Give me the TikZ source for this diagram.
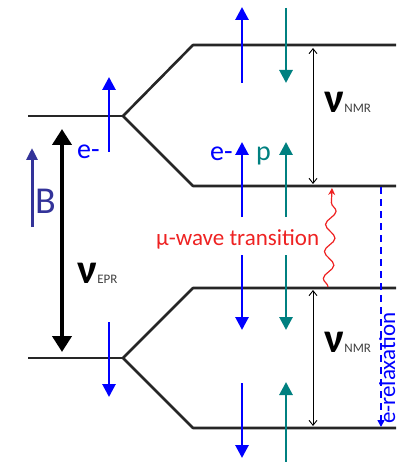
\documentclass[tikz,border=0pt]{standalone}
\usepackage{fontspec}
\setmainfont{Carlito}
\usetikzlibrary{arrows.meta,decorations.pathmorphing}
\definecolor{eblue}{HTML}{0000FF}
\definecolor{pteal}{HTML}{008080}
\definecolor{bnavy}{HTML}{333399}
\definecolor{wred}{HTML}{EE2222}
\definecolor{lvl}{HTML}{262626}
\definecolor{subgray}{HTML}{404040}
\begin{document}
\begin{tikzpicture}[x=1pt,y=-1pt,
  level/.style={draw=lvl,line width=2.6pt,line join=round},
  spinblue/.style={draw=eblue,line width=2.8pt,-{Triangle[width=13pt,length=13pt]}},
  spinteal/.style={draw=pteal,line width=2.8pt,-{Triangle[width=13pt,length=13pt]}},
  nmrarrow/.style={draw=black,line width=0.9pt,{Straight Barb[length=5pt,width=8pt]}-{Straight Barb[length=5pt,width=8pt]}},
  nulabel/.style={anchor=base west,inner sep=0pt,font=\fontsize{42}{42}\selectfont\bfseries},
  sublabel/.style={anchor=base west,inner sep=0pt,text=subgray,font=\fontsize{13}{13}\selectfont}]
\useasboundingbox (0,0) rectangle (396,462);
% levels
\coordinate (L1) at (28,116);
\coordinate (S1) at (123,116);
\coordinate (L2) at (28,358);
\coordinate (S2) at (123,358);
\coordinate (T1) at (193,45);   \coordinate (T1e) at (396,45);
\coordinate (T2) at (193,186);  \coordinate (T2e) at (396,186);
\coordinate (T3) at (193,288);  \coordinate (T3e) at (396,288);
\coordinate (T4) at (193,428);  \coordinate (T4e) at (396,428);
\draw[level] (L1) -- (S1);
\draw[level] (T1e) -- (T1) -- (S1) -- (T2) -- (T2e);
\draw[level] (L2) -- (S2);
\draw[level] (T3e) -- (T3) -- (S2) -- (T4) -- (T4e);
% left spins
\draw[spinblue] (109,152) -- (109,77);
\draw[spinblue] (109,322) -- (109,397);
% right spins
\draw[spinblue] (242,83) -- (242,7);
\draw[spinteal] (286,8) -- (286,83);
\draw[spinblue] (242,217) -- (242,142);
\draw[spinteal] (286,217) -- (286,142);
\draw[spinblue] (242,255) -- (242,330);
\draw[spinteal] (286,255) -- (286,330);
\draw[spinblue] (242,383) -- (242,458);
\draw[spinteal] (286,462) -- (286,382);
% EPR arrow
\draw[line width=4pt,{Triangle[width=19pt,length=16pt]}-{Triangle[width=19pt,length=16pt]}] (62,129) -- (62,352);
% B arrow
\draw[bnavy,line width=3pt,-{Triangle[width=11pt,length=12pt]}] (32,227) -- (32,148);
% NMR arrows
\draw[nmrarrow] (313,48) -- (313,184);
\draw[nmrarrow] (313,290) -- (313,426);
% microwave
\draw[wred,line width=1.2pt,-{Stealth[length=7pt,width=7pt]},decorate,
  decoration={snake,amplitude=5pt,segment length=27pt,post length=7pt}] (328,287) -- (332,188);
% relaxation
\draw[eblue,line width=1.5pt,dash pattern=on 7pt off 5pt,-{Triangle[width=7pt,length=7pt]}] (381,187) -- (381,427);
% labels
\node[anchor=base west,inner sep=0pt,text=eblue,font=\fontsize{28}{28}\selectfont] (eL) at (77,159) {e-};
\node[anchor=base west,inner sep=0pt,text=eblue,font=\fontsize{28}{28}\selectfont] (eR) at (210,161) {e-};
\node[anchor=base west,inner sep=0pt,text=pteal,font=\fontsize{28}{28}\selectfont] (pR) at (256,161) {p};
\node[anchor=base west,inner sep=0pt,text=bnavy,font=\fontsize{38}{38}\selectfont] (B) at (35,213) {B};
\node[anchor=base west,inner sep=0pt,text=wred,font=\fontsize{23}{23}\selectfont] (mw) at (156,245) {μ-wave transition};
\node[anchor=base west,inner sep=0pt,text depth=0pt,text=eblue,font=\fontsize{23}{23}\selectfont,rotate=90] (rel) at (395,424) {e-relaxation};
\node[nulabel] (nuE) at (77,283) {ν};
\node[sublabel] (subE) at (nuE.base east) {EPR};
\node[nulabel] (nuN1) at (324,113) {ν};
\node[sublabel] (subN1) at (nuN1.base east) {NMR};
\node[nulabel] (nuN2) at (324,352) {ν};
\node[sublabel] (subN2) at (nuN2.base east) {NMR};
\end{tikzpicture}
\end{document}
